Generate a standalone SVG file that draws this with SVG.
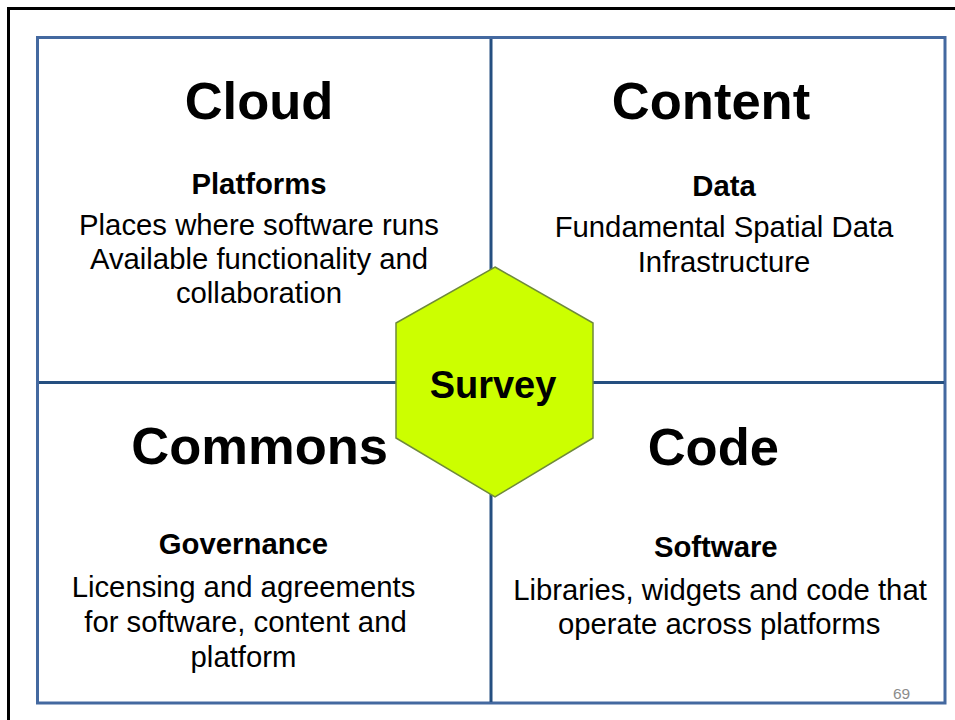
<svg xmlns="http://www.w3.org/2000/svg" width="955" height="720" viewBox="0 0 955 720">
<style>
.h{font-family:"Liberation Sans",Arial,sans-serif;font-weight:bold;font-size:52.5px;fill:#000;text-anchor:middle}
.s{font-family:"Liberation Sans",Arial,sans-serif;font-weight:bold;font-size:29.3px;fill:#000;text-anchor:middle}
.b{font-family:"Liberation Sans",Arial,sans-serif;font-size:29.3px;fill:#000;text-anchor:middle}
.div{stroke:#254f80;stroke-width:3;fill:none}
</style>
<rect x="0" y="0" width="955" height="720" fill="#fff"/>
<path d="M8.5,720 V8.5 H955" fill="none" stroke="#000" stroke-width="3"/>
<rect x="37.5" y="37.5" width="907.5" height="665.5" fill="none" stroke="#4469a0" stroke-width="3"/>
<g id="connectors">
<line class="div" x1="491" y1="39" x2="491" y2="702"/>
<line class="div" x1="39" y1="382.5" x2="944" y2="382.5"/>
</g>
<g id="cloud">
<text class="h" x="259" y="119">Cloud</text>
<text class="s" x="259" y="194">Platforms</text>
<text class="b" x="259" y="235">Places where software runs</text>
<text class="b" x="259" y="269">Available functionality and</text>
<text class="b" x="259" y="303">collaboration</text>
</g>
<g id="content">
<text class="h" x="711" y="118.5">Content</text>
<text class="s" x="724" y="195.5">Data</text>
<text class="b" x="724" y="237">Fundamental Spatial Data</text>
<text class="b" x="724" y="271.5">Infrastructure</text>
</g>
<g id="commons">
<text class="h" x="259.7" y="463.5">Commons</text>
<text class="s" x="243.5" y="553.5">Governance</text>
<text class="b" x="243.5" y="597">Licensing and agreements</text>
<text class="b" x="245.5" y="632">for software, content and</text>
<text class="b" x="243.5" y="666.5">platform</text>
</g>
<g id="code">
<text class="h" x="713.3" y="465">Code</text>
<text class="s" x="715.8" y="557">Software</text>
<text class="b" x="720" y="600">Libraries, widgets and code that</text>
<text class="b" x="719.2" y="633.5">operate across platforms</text>
</g>
<g id="survey">
<polygon points="495,267 593,323 593,438 495,497 396,438 396,323" fill="#ccff00" stroke="#6f8a3a" stroke-width="1.5"/>
<text x="493" y="398" font-family="'Liberation Sans',Arial,sans-serif" font-weight="bold" font-size="38" fill="#000" text-anchor="middle">Survey</text>
</g>
<text x="901.5" y="699" font-family="'Liberation Sans',Arial,sans-serif" font-size="15.5" fill="#8c8c8c" text-anchor="middle">69</text>
</svg>
